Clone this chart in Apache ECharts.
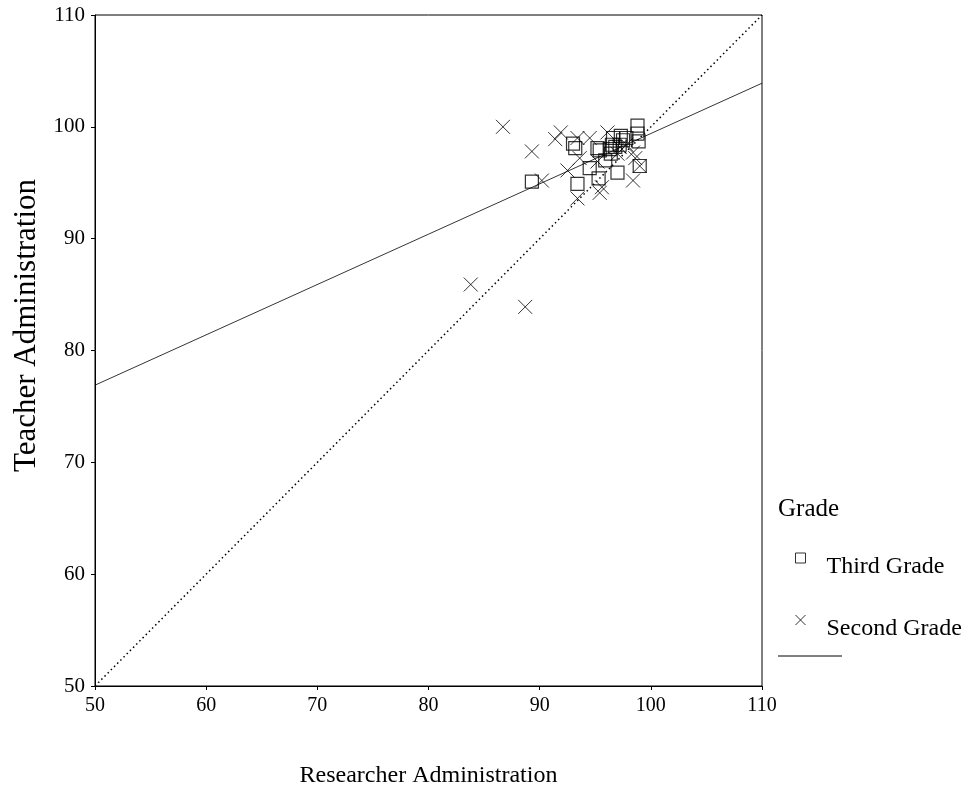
<!DOCTYPE html>
<html>
<head>
<meta charset="utf-8">
<script src="https://cdn.jsdelivr.net/npm/echarts@6/dist/echarts.min.js"></script>
<style>html,body{margin:0;padding:0;background:#fff;}#c{width:971px;height:809px;}</style>
</head>
<body>
<div id="c"></div>
<script>
const xTicks = [50, 60, 70, 80, 90, 100, 110];
const yTicks = [50, 60, 70, 80, 90, 100, 110];
const thirdGrade = [[89.3,95.1],[93.0,98.5],[93.2,98.1],[95.2,98.1],[95.4,97.9],[93.4,94.9],[94.5,96.3],[95.3,95.4],[97.0,95.9],[95.9,97.0],[96.4,97.6],[96.5,98.4],[96.6,99.0],[97.3,99.2],[97.5,98.8],[98.8,100.1],[98.8,99.4],[98.9,98.7],[99.0,96.5],[97.8,99.0],[96.3,98.0],[97.2,98.4],[96.8,98.2]];
const secondGrade = [[86.7,100.0],[89.3,97.8],[90.2,95.2],[91.4,98.9],[91.9,99.5],[93.4,99.0],[94.5,99.0],[96.1,99.5],[93.6,97.2],[92.5,96.1],[93.4,93.6],[95.4,94.1],[95.6,94.6],[98.4,95.2],[98.6,97.2],[98.4,97.7],[99.0,96.5],[97.2,98.2],[97.8,98.4],[83.8,85.9],[88.7,83.9],[95.2,96.9],[97.0,97.6]];
const fitLine = [[50, 76.9], [110, 103.9]];
const identityLine = [[50, 50], [110, 110]];
const seriesNames = ['Third Grade', 'Second Grade'];

const FONT = 'Liberation Serif';
const xPath = 'path://M0,0L10,10M10,0L0,10';
const chart = echarts.init(document.getElementById('c'));
chart.setOption({
  animation: false,
  grid: {left: 95, right: 209, top: 15, bottom: 123, show: true, borderColor: '#000', borderWidth: 1},
  title: {text: 'Grade', left: 773, top: 492, textStyle: {fontFamily: FONT, fontSize: 25, fontWeight: 'normal', color: '#000'}},
  legend: {
    data: [
      {name: seriesNames[0], icon: 'rect', itemStyle: {color: 'transparent', borderColor: '#000', borderWidth: 1}},
      {name: seriesNames[1], icon: xPath, itemStyle: {color: 'transparent', borderColor: '#000', borderWidth: 1}}
    ],
    orient: 'vertical', left: 790, top: 530, itemGap: 18, itemWidth: 10, itemHeight: 10,
    formatter: n => '{s|}\n{t|' + n + '}',
    textStyle: {
      fontFamily: FONT, fontSize: 24, color: '#000',
      rich: {
        s: {height: 18, lineHeight: 18, fontSize: 10},
        t: {fontFamily: FONT, fontSize: 24, lineHeight: 28, color: '#000', padding: [0, 0, 0, 16]}
      }
    }
  },
  graphic: [
    {type: 'line', shape: {x1: 778, y1: 656, x2: 842, y2: 656}, style: {stroke: '#000', lineWidth: 1}}
  ],
  xAxis: {
    type: 'value', min: 50, max: 110, interval: 10,
    name: 'Researcher Administration', nameLocation: 'middle', nameGap: 78,
    nameTextStyle: {fontFamily: FONT, fontSize: 24, color: '#000'},
    axisLine: {show: true, onZero: false, lineStyle: {color: '#000'}},
    axisTick: {show: true, length: 4, lineStyle: {color: '#000'}},
    axisLabel: {fontFamily: FONT, fontSize: 20, color: '#000', margin: 10, formatter: v => xTicks.includes(v) ? String(v) : ''},
    splitLine: {show: false}
  },
  yAxis: {
    type: 'value', min: 50, max: 110, interval: 10,
    name: 'Teacher Administration', nameLocation: 'middle', nameGap: 48,
    nameTextStyle: {fontFamily: FONT, fontSize: 31, color: '#000', padding: [0, 0, 0, 50]},
    axisLine: {show: true, onZero: false, lineStyle: {color: '#000'}},
    axisTick: {show: true, length: 4, lineStyle: {color: '#000'}},
    axisLabel: {fontFamily: FONT, fontSize: 21, color: '#000', margin: 10, formatter: v => yTicks.includes(v) ? String(v) : ''},
    splitLine: {show: false}
  },
  series: [
    {
      name: 'Identity', type: 'line', data: identityLine, symbol: 'none', silent: true,
      lineStyle: {color: '#000', width: 1.5, type: [1.5, 3]}, z: 1
    },
    {
      name: 'Fit', type: 'line', data: fitLine, symbol: 'none', silent: true,
      lineStyle: {color: '#000', width: 0.8}, z: 1
    },
    {
      name: seriesNames[0], type: 'scatter', data: thirdGrade, symbol: 'rect', symbolSize: 13,
      itemStyle: {color: 'transparent', borderColor: '#000', borderWidth: 1.2}, z: 3
    },
    {
      name: seriesNames[1], type: 'scatter', data: secondGrade, symbol: xPath, symbolSize: 14,
      itemStyle: {color: 'transparent', borderColor: '#000', borderWidth: 1}, z: 3
    }
  ]
});
</script>
</body>
</html>
